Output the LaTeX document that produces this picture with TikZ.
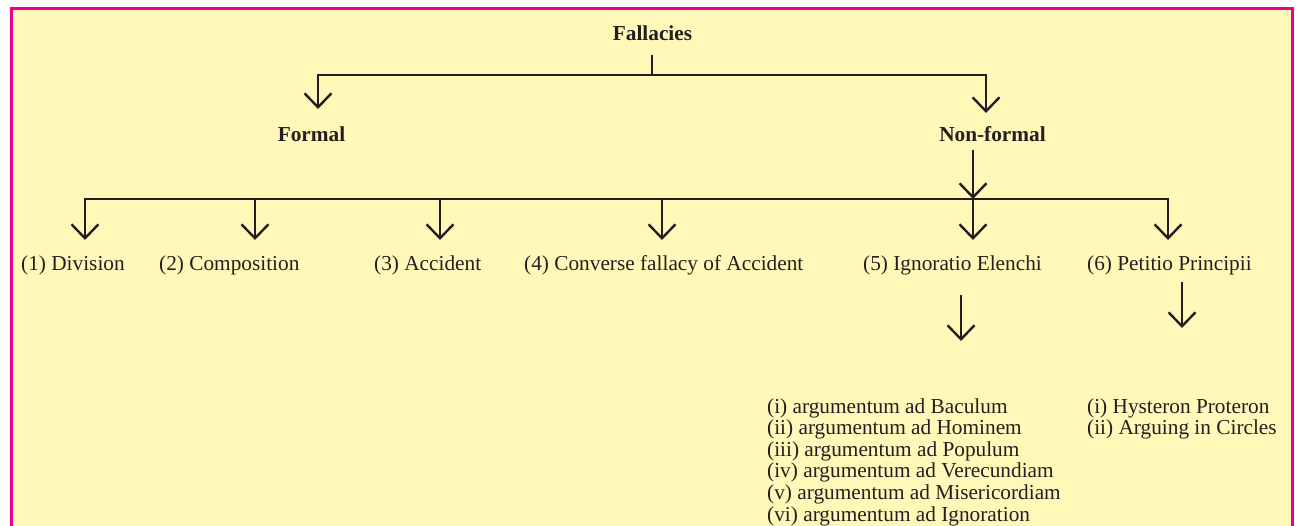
\documentclass[tikz,border=0pt]{standalone}
\usepackage{fontspec}
\setmainfont{Liberation Serif}
\usetikzlibrary{arrows.meta}
\definecolor{bgyellow}{HTML}{FFF8B8}
\definecolor{framepink}{HTML}{EC008C}
\definecolor{ink}{HTML}{231F20}
\begin{document}
\begin{tikzpicture}[x=1pt,y=-1pt,
  lbl/.style={font=\fontsize{21.3}{24}\selectfont, text=ink, inner sep=0pt, anchor=base west},
  head/.style={font=\fontsize{21.3}{24}\selectfont\bfseries, text=ink, inner sep=0pt, anchor=base},
  conn/.style={draw=ink, line width=2.4pt, line join=miter},
  arr/.style={conn, -{Straight Barb[length=14pt,width=27pt,line width=2.4pt]}}]
\useasboundingbox (0,0) rectangle (1298,526);
\fill[bgyellow] (11,9) rectangle (1292,526);
\draw[framepink, line width=3pt] (11,526) -- (11,9) -- (1292,9) -- (1292,526);

% headings
\node[head] (fall) at (652.5,41) {Fallacies};
\node[head] (formal) at (311.5,142) {Formal};
\node[head] (nonformal) at (992.5,142) {Non-formal};

% second level
\node[lbl] (c1) at (21,271) {(1) Division};
\node[lbl] (c2) at (159,271) {(2) Composition};
\node[lbl] (c3) at (374,271) {(3) Accident};
\node[lbl] (c4) at (524,271) {(4) Converse fallacy of Accident};
\node[lbl] (c5) at (863,271) {(5) Ignoratio Elenchi};
\node[lbl] (c6) at (1087,271) {(6) Petitio Principii};

% lists
\node[lbl] (e1) at (767,413.0) {(i) argumentum ad Baculum};
\node[lbl] (e2) at (767,434.6) {(ii) argumentum ad Hominem};
\node[lbl] (e3) at (767,456.2) {(iii) argumentum ad Populum};
\node[lbl] (e4) at (767,477.8) {(iv) argumentum ad Verecundiam};
\node[lbl] (e5) at (767,499.4) {(v) argumentum ad Misericordiam};
\node[lbl] (e6) at (767,521.0) {(vi) argumentum ad Ignoration};
\node[lbl] (p1) at (1087,413.0) {(i) Hysteron Proteron};
\node[lbl] (p2) at (1087,434.6) {(ii) Arguing in Circles};

% top connectors
\coordinate (fs) at (652,55);
\coordinate (fj) at (652,75);
\coordinate (ftl) at (318,109);
\coordinate (ftr) at (986,113);
\draw[conn] (fs) -- (fj);
\draw[arr] (fj) -| (ftl);
\draw[arr] (fj) -| (ftr);

% non-formal to bar
\coordinate (ns) at (973,150);
\coordinate (nj) at (973,199);
\draw[arr] (ns) -- (nj);

% bar and branches
\coordinate (t1) at (85,240);
\coordinate (t2) at (255,240);
\coordinate (t3) at (440,240);
\coordinate (t4) at (662,240);
\coordinate (t5) at (973,240);
\coordinate (t6) at (1168,240);
\draw[arr] (nj) -| (t1);
\draw[arr] (nj) -| (t6);
\draw[arr] (255,199) -- (t2);
\draw[arr] (440,199) -- (t3);
\draw[arr] (662,199) -- (t4);
\draw[arr] (nj) -- (t5);

% sub arrows
\coordinate (s5a) at (961,295);
\coordinate (s5b) at (961,341);
\coordinate (s6a) at (1182,282);
\coordinate (s6b) at (1182,328);
\draw[arr] (s5a) -- (s5b);
\draw[arr] (s6a) -- (s6b);
\end{tikzpicture}
\end{document}
